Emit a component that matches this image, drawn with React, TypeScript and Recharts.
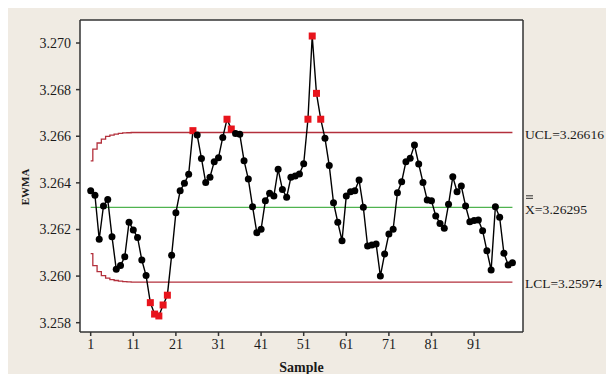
import {
  ComposedChart,
  Line,
  XAxis,
  YAxis,
  CartesianGrid,
  ReferenceLine,
} from "recharts";

// EWMA statistic per sample
const EWMA = [
  3.26366, 3.26347, 3.26158, 3.26301, 3.26329, 3.26169, 3.26029, 3.26045, 3.26083, 3.26231,
  3.26198, 3.26166, 3.26069, 3.26002, 3.25886, 3.25837, 3.25829, 3.25876, 3.25918, 3.26089,
  3.26272, 3.26366, 3.26398, 3.26437, 3.26624, 3.26605, 3.26505, 3.26401, 3.26424, 3.26491,
  3.26508, 3.26595, 3.26673, 3.26631, 3.26612, 3.26608, 3.26495, 3.26416, 3.26298, 3.26186,
  3.26201, 3.26323, 3.26355, 3.26344, 3.26458, 3.26372, 3.26338, 3.26424, 3.26429, 3.26438,
  3.26482, 3.26673, 3.27030, 3.26784, 3.26673, 3.26591, 3.26474, 3.26315, 3.26231, 3.26152,
  3.26344, 3.26362, 3.26366, 3.26412, 3.26295, 3.26129, 3.26133, 3.26138, 3.26000, 3.26095,
  3.26181, 3.26201, 3.26358, 3.26405, 3.26491, 3.26506, 3.26562, 3.26481, 3.26402, 3.26326,
  3.26323, 3.26258, 3.26226, 3.26205, 3.26308, 3.26426, 3.26362, 3.26386, 3.26301, 3.26233,
  3.26238, 3.26241, 3.26195, 3.26109, 3.26026, 3.26298, 3.26252, 3.26098, 3.26048, 3.26057,
];

// control limits: they widen over the first samples, then stay flat
const UCL = 3.26616;
const CENTER = 3.26295;
const LCL = 3.25974;
const UCL_START = [3.26494, 3.26545, 3.26571, 3.26588, 3.26599, 3.26605, 3.26609, 3.26612, 3.26614, 3.26615];
const LCL_START = [3.26096, 3.26045, 3.26019, 3.26002, 3.25991, 3.25985, 3.25981, 3.25978, 3.25976, 3.25975];

const X_TICKS = [1, 11, 21, 31, 41, 51, 61, 71, 81, 91];
const Y_TICKS = [3.258, 3.26, 3.262, 3.264, 3.266, 3.268, 3.27];

const X_DOMAIN = [-1.51, 102.48];
const Y_DOMAIN = [3.257601, 3.270987];

const data = EWMA.map((v, i) => ({
  sample: i + 1,
  ewma: v,
  ucl: i < UCL_START.length ? UCL_START[i] : UCL,
  lcl: i < LCL_START.length ? LCL_START[i] : LCL,
  center: CENTER,
}));

const FONT = "'Liberation Serif', 'Times New Roman', serif";
const FRAME = "#333";
const LIMIT = "#b3303c";

function EwmaDot(props: any) {
  const { cx, cy, payload, index } = props;
  const out = payload.ewma > payload.ucl || payload.ewma < payload.lcl;
  if (out) {
    return <rect key={`d${index}`} x={cx - 3.5} y={cy - 3.5} width={7} height={7} fill="#e8141c" />;
  }
  return <circle key={`d${index}`} cx={cx} cy={cy} r={3.5} fill="#000" />;
}

function sideLabel(text: string, width: number, bars = false) {
  return (props: any) => {
    const vb = props.viewBox;
    const x = vb.x + vb.width + 2;
    const y = vb.y + 1.5;
    return (
      <g>
        <text
          x={x}
          y={y}
          dy="0.35em"
          fontSize={13.5}
          fontFamily={FONT}
          fill="#1a1a1a"
          textLength={width}
          lengthAdjust="spacingAndGlyphs"
        >
          {text}
        </text>
        {bars && (
          <>
            <line x1={x + 1} x2={x + 8} y1={y - 13} y2={y - 13} stroke="#1a1a1a" strokeWidth={0.9} />
            <line x1={x + 1} x2={x + 8} y1={y - 10.5} y2={y - 10.5} stroke="#1a1a1a" strokeWidth={0.9} />
          </>
        )}
      </g>
    );
  };
}

function YTitle(props: any) {
  const vb = props.viewBox;
  const x = vb.x + 17;
  const y = vb.y + vb.height / 2 + 11;
  return (
    <text
      x={x}
      y={y}
      dy="0.35em"
      textAnchor="middle"
      transform={`rotate(-90 ${x} ${y})`}
      fontSize={11}
      fontWeight="bold"
      fontFamily={FONT}
      fill="#1a1a1a"
    >
      EWMA
    </text>
  );
}

function XTitle(props: any) {
  const vb = props.viewBox;
  return (
    <text
      x={vb.x + vb.width / 2}
      y={vb.y + 35}
      dy="0.35em"
      textAnchor="middle"
      fontSize={14}
      fontWeight="bold"
      fontFamily={FONT}
      fill="#1a1a1a"
    >
      Sample
    </text>
  );
}

export default function App() {
  const tick = { fontSize: 14, fill: "#1a1a1a", fontFamily: FONT };
  return (
    <div
      style={{
        position: "absolute",
        left: 8,
        top: 8,
        width: 598,
        height: 366,
        background: "#f0ebe3",
        fontFamily: FONT,
        overflow: "visible",
      }}
    >
      <ComposedChart
        width={598}
        height={366}
        data={data}
        margin={{ top: 12, right: 83, bottom: 0, left: 0 }}
        style={{ overflow: "visible" }}
      >
        <CartesianGrid horizontal={false} vertical={false} fill="#fff" fillOpacity={1} />
        <XAxis
          type="number"
          dataKey="sample"
          domain={X_DOMAIN}
          ticks={X_TICKS}
          allowDataOverflow
          height={42}
          tick={tick}
          tickSize={4}
          tickMargin={3}
          stroke={FRAME}
          strokeWidth={1.5}
          label={<XTitle />}
        />
        <YAxis
          type="number"
          domain={Y_DOMAIN}
          ticks={Y_TICKS}
          allowDataOverflow
          width={72}
          tick={tick}
          tickSize={4}
          tickMargin={5}
          tickFormatter={(v: number) => v.toFixed(3)}
          stroke={FRAME}
          strokeWidth={1.5}
          label={<YTitle />}
        />
        <ReferenceLine y={Y_DOMAIN[1]} stroke={FRAME} strokeWidth={1.5} ifOverflow="visible" />
        <ReferenceLine x={X_DOMAIN[1]} stroke={FRAME} strokeWidth={1.5} ifOverflow="visible" />
        <ReferenceLine y={UCL} stroke="none" label={sideLabel("UCL=3.26616", 79)} />
        <ReferenceLine y={CENTER} stroke="none" label={sideLabel("X=3.26295", 62, true)} />
        <ReferenceLine y={LCL} stroke="none" label={sideLabel("LCL=3.25974", 77)} />
        <Line dataKey="ucl" type="step" stroke={LIMIT} strokeWidth={1.3} dot={false} isAnimationActive={false} />
        <Line dataKey="lcl" type="step" stroke={LIMIT} strokeWidth={1.3} dot={false} isAnimationActive={false} />
        <Line dataKey="center" type="linear" stroke="#4fb34f" strokeWidth={1.3} dot={false} isAnimationActive={false} />
        <Line
          dataKey="ewma"
          type="linear"
          stroke="#000"
          strokeWidth={1.4}
          dot={EwmaDot}
          activeDot={false}
          isAnimationActive={false}
        />
      </ComposedChart>
    </div>
  );
}
